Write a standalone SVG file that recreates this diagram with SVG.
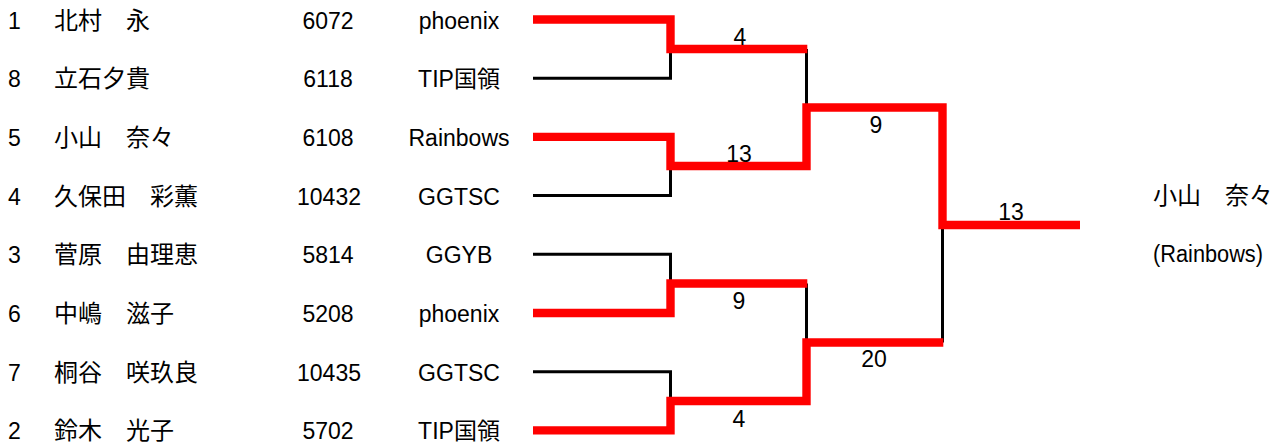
<svg xmlns="http://www.w3.org/2000/svg" width="1282" height="446" viewBox="0 0 1282 446">
<style>
text{font-family:"Liberation Sans","Noto Sans CJK JP",sans-serif;font-size:23px;fill:#000}
.nm{font-family:"Noto Sans CJK JP",sans-serif;font-size:24px}
.c{text-anchor:middle}
.blk{fill:none;stroke:#000;stroke-width:3;stroke-linejoin:miter;stroke-linecap:butt}
.red{fill:none;stroke:#ff0000;stroke-width:8.4;stroke-linejoin:miter;stroke-linecap:butt}
</style>
<rect width="1282" height="446" fill="#fff"/>
<g id="connectors">
<path class="blk" d="M533,78.2 H670.5 V49"/>
<path class="blk" d="M533,195.6 H670.5 V166"/>
<path class="blk" d="M533,254.3 H670.5 V283.5"/>
<path class="blk" d="M533,371.7 H670.5 V401"/>
<path class="blk" d="M806.5,49 V107.5"/>
<path class="blk" d="M806.5,283.5 V342.5"/>
<path class="blk" d="M942.5,225 V342.5"/>
<path class="red" d="M533,19.5 H670.5 V49 H807.3"/>
<path class="red" d="M533,136.9 H670.5 V166 H806.5 V107.5 H942.5 V225 H1080"/>
<path class="red" d="M533,313 H670.5 V283.5 H807.3"/>
<path class="red" d="M533,430.4 H670.5 V401 H806.5 V342.5 H943.3"/>
<g id="scores">
<text x="740" y="45" class="c">4</text>
<text x="739" y="162" class="c">13</text>
<text x="876" y="133" class="c">9</text>
<text x="739" y="309" class="c">9</text>
<text x="739" y="427" class="c">4</text>
<text x="874" y="367" class="c">20</text>
<text x="1011" y="220" class="c">13</text>
</g>
</g>
<g id="p1"><text x="8" y="28.5">1</text><text x="54" y="28.5" class="nm">北村　永</text><text x="328" y="28.5" class="c">6072</text><text x="459" y="28.5" class="c">phoenix</text></g>
<g id="p8"><text x="8" y="87.2">8</text><text x="54" y="87.2" class="nm">立石夕貴</text><text x="328" y="87.2" class="c">6118</text><text x="459" y="87.2" class="c">TIP国領</text></g>
<g id="p5"><text x="8" y="145.9">5</text><text x="54" y="145.9" class="nm">小山　奈々</text><text x="328" y="145.9" class="c">6108</text><text x="459" y="145.9" class="c">Rainbows</text></g>
<g id="p4"><text x="8" y="204.6">4</text><text x="54" y="204.6" class="nm">久保田　彩薫</text><text x="329" y="204.6" class="c">10432</text><text x="459" y="204.6" class="c">GGTSC</text></g>
<g id="p3"><text x="8" y="263.3">3</text><text x="54" y="263.3" class="nm">菅原　由理恵</text><text x="328" y="263.3" class="c">5814</text><text x="459" y="263.3" class="c">GGYB</text></g>
<g id="p6"><text x="8" y="322">6</text><text x="54" y="322" class="nm">中嶋　滋子</text><text x="328" y="322" class="c">5208</text><text x="459" y="322" class="c">phoenix</text></g>
<g id="p7"><text x="8" y="380.7">7</text><text x="54" y="380.7" class="nm">桐谷　咲玖良</text><text x="329" y="380.7" class="c">10435</text><text x="459" y="380.7" class="c">GGTSC</text></g>
<g id="p2"><text x="8" y="439.4">2</text><text x="54" y="439.4" class="nm">鈴木　光子</text><text x="328" y="439.4" class="c">5702</text><text x="459" y="439.4" class="c">TIP国領</text></g>
<g id="winner"><text x="1153" y="204" class="nm">小山　奈々</text><text x="1153" y="262" textLength="110" lengthAdjust="spacingAndGlyphs">(Rainbows)</text></g>
</svg>
